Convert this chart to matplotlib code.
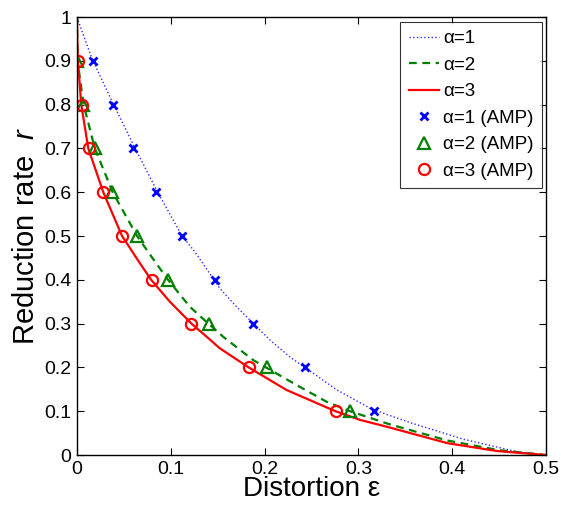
import matplotlib
matplotlib.use("Agg")
import matplotlib.pyplot as plt

plt.rcParams["font.family"] = ["Liberation Sans", "DejaVu Sans"]
plt.rcParams["mathtext.fontset"] = "custom"
plt.rcParams["mathtext.rm"] = "Liberation Sans"
plt.rcParams["mathtext.it"] = "Liberation Sans:italic"

# Theoretical curves: distortion (x) vs reduction rate (y)
eps_a1 = [0, 0.0067, 0.012, 0.017, 0.039, 0.062, 0.086, 0.112, 0.1256, 0.1522,
          0.170, 0.188, 0.207, 0.228, 0.243, 0.2767, 0.3122, 0.3318, 0.358,
          0.412, 0.468, 0.5]
rate_a1 = [1, 0.959, 0.928, 0.9, 0.8, 0.7, 0.6, 0.5, 0.464, 0.3805,
           0.3386, 0.3, 0.26, 0.222, 0.2, 0.149, 0.107, 0.0913, 0.072,
           0.036, 0.008, 0]

eps_a2 = [0, 0.0005, 0.007, 0.019, 0.038, 0.064, 0.078, 0.097, 0.1202, 0.140,
          0.1558, 0.1877, 0.234, 0.266, 0.291, 0.3087, 0.3318, 0.395, 0.45, 0.5]
rate_a2 = [1, 0.9, 0.8, 0.7, 0.6, 0.5, 0.457, 0.4, 0.3386, 0.3,
           0.270, 0.2169, 0.1598, 0.1217, 0.1, 0.0875, 0.071, 0.033, 0.011, 0]

eps_a3 = [0, 0.0002, 0.001, 0.0045, 0.012, 0.028, 0.048, 0.067, 0.079, 0.099,
          0.122, 0.142, 0.1522, 0.183, 0.2234, 0.2755, 0.302, 0.330, 0.395,
          0.448, 0.5]
rate_a3 = [1, 0.95, 0.9, 0.8, 0.7, 0.6, 0.5, 0.438, 0.4, 0.35,
           0.3, 0.263, 0.2436, 0.2, 0.1484, 0.1, 0.08, 0.0647, 0.027,
           0.009, 0]

# AMP results at fixed reduction rates
amp_rate = [0.9, 0.8, 0.7, 0.6, 0.5, 0.4, 0.3, 0.2, 0.1]
amp_eps_a1 = [0.017, 0.038, 0.060, 0.084, 0.112, 0.147, 0.188, 0.243, 0.317]
amp_eps_a2 = [0.0005, 0.0067, 0.0192, 0.0378, 0.0638, 0.0965, 0.1407, 0.2026, 0.291]
amp_eps_a3 = [0.0007, 0.005, 0.0123, 0.0276, 0.0476, 0.0795, 0.122, 0.1829, 0.2756]

fig = plt.figure(figsize=(5.61, 5.05), dpi=100)
ax = fig.add_axes([0.1373, 0.099, 0.8360, 0.8673])

ax.plot(eps_a1, rate_a1, linestyle=":", color="#2b2bff", lw=1.0, label="α=1")
ax.plot(eps_a2, rate_a2, linestyle="--", color="#008000", lw=1.6,
        dashes=(3.5, 2.5), label="α=2")
ax.plot(eps_a3, rate_a3, linestyle="-", color="#ff0000", lw=1.6, label="α=3")
ax.plot(amp_eps_a1, amp_rate, linestyle="none", marker="x", color="#0000ff",
        ms=5.5, mew=2.0, label="α=1 (AMP)")
ax.plot(amp_eps_a2, amp_rate, linestyle="none", marker="^", color="#008000",
        mfc="none", ms=8.5, mew=1.6, label="α=2 (AMP)")
ax.plot(amp_eps_a3, amp_rate, linestyle="none", marker="o", color="#ff0000",
        mfc="none", ms=8, mew=1.6, label="α=3 (AMP)")

ax.set_xlim(0, 0.5)
ax.set_ylim(0, 1)
xt = [0, 0.1, 0.2, 0.3, 0.4, 0.5]
yt = [0, 0.1, 0.2, 0.3, 0.4, 0.5, 0.6, 0.7, 0.8, 0.9, 1]
ax.set_xticks(xt)
ax.set_xticklabels(["0", "0.1", "0.2", "0.3", "0.4", "0.5"])
ax.set_yticks(yt)
ax.set_yticklabels(["0", "0.1", "0.2", "0.3", "0.4", "0.5", "0.6", "0.7",
                    "0.8", "0.9", "1"])
ax.tick_params(direction="in", length=5, width=0.8, top=True, right=True,
               labelsize=14, pad=4)
for s in ax.spines.values():
    s.set_linewidth(1.0)

ax.set_xlabel("Distortion ε", fontsize=20, labelpad=-1)
ax.set_ylabel("Reduction rate  $r$", fontsize=21, labelpad=3)

leg = ax.legend(loc="upper right", bbox_to_anchor=(0.992, 0.989),
                fontsize=13.5, frameon=True, fancybox=False,
                edgecolor="black", handlelength=1.6, handletextpad=0.25,
                labelspacing=0.5, borderpad=0.45, borderaxespad=0.0)
leg.get_frame().set_linewidth(0.8)

fig.savefig("out.png", dpi=100)
